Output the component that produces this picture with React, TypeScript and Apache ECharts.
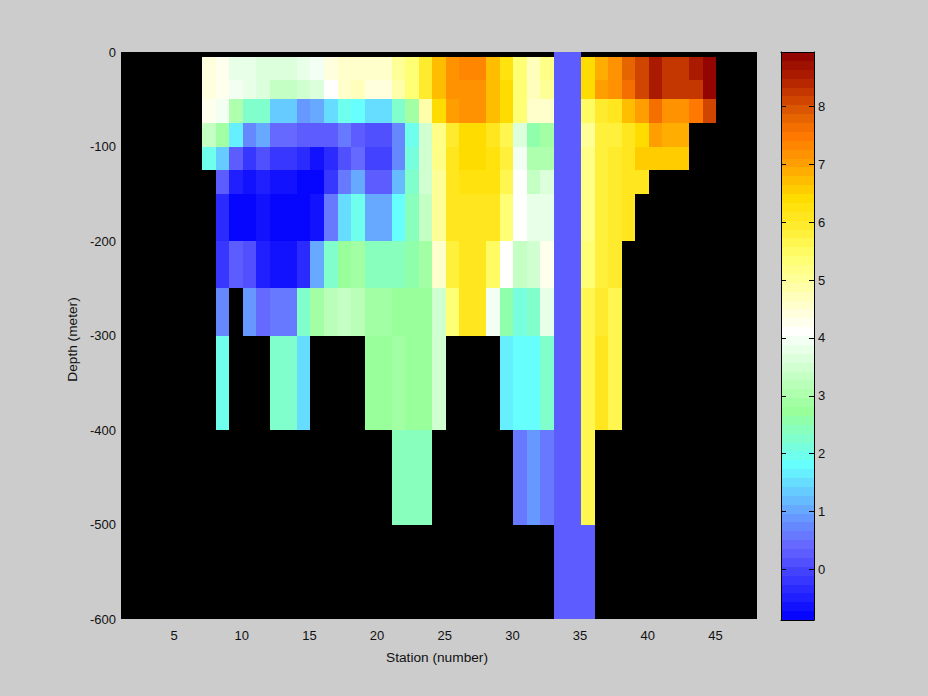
import React, { useEffect, useRef } from "react";
import * as echarts from "echarts";

const _ = null;
const firstStation = 7;
const depthEdges = [0, -5, -30, -50, -75, -100, -125, -150, -200, -250, -300, -400, -500, -600];

const row0to5 = [_,_,_,_,_,_,_,_,_,_,_,_,_,_,_,_,_,_,_,_,_,_,_,_,_,_,.35,.35,_,_,_,_,_,_,_,_,_,_];
const row5to30 = [4.4,4.2,3.75,3.75,3.6,3.6,3.6,3.85,4.0,4.4, 4.6,4.6,4.55,4.55,5.0,5.4,6.0,6.7,7.1,7.3, 7.3,6.7,6.2,5.4,4.7,5.2, .35,.35, 6.45,6.9,7.1,7.75,8.15,8.5,8.3,8.3,8.5,8.9];
const row30to50 = [4.4,4.2,4.0,3.85,3.6,3.3,3.3,3.5,3.7,4.15, 4.5,4.7,4.35,4.35,4.85,5.4,6.0,6.7,7.1,7.1, 7.1,6.7,6.4,5.4,4.7,5.0, .35,.35, 6.4,6.95,7.1,7.6,8.15,8.5,8.3,8.3,8.3,8.9];
const row50to75 = [4.3,3.9,3.0,2.2,2.2,1.4,1.4,.95,1.05,1.45, 2.0,1.8,1.5,1.5,2.2,2.85,4.85,6.4,6.95,7.15, 7.15,6.7,6.4,5.4,4.5,4.5, .35,.35, 5.5,6.0,6.15,6.75,7.05,7.7,7.2,7.2,7.5,8.15];
const row75to100 = [3.3,2.85,1.6,.8,1.0,.4,.4,.25,.25,.25, .65,.35,.05,.05,.75,1.9,3.55,5.2,5.95,6.35, 6.35,6.1,5.7,3.7,2.55,2.85, .35,.35, 5.1,5.75,5.75,6.15,6.35,6.95,6.8,6.8,_,_];
const row100to125 = [2.0,1.3,.2,-.25,.05,-.2,-.2,-.4,-.6,-.4, .05,.4,-.05,-.05,.75,2.05,3.5,5.25,6.1,6.4, 6.4,6.25,5.8,3.9,3.1,3.1, .35,.35, 5.2,5.75,5.9,6.15,6.5,6.6,6.6,6.6,_,_];
const row125to150 = [_,.3,-.5,-.7,-.55,-.7,-.7,-.8,-.8,-.25, .55,1.05,.25,.25,1.25,2.2,3.45,5.1,6.05,6.2, 6.2,6.2,5.6,4.05,3.4,3.7, .35,.35, 5.15,5.8,5.95,6.15,6.15,_,_,_,_,_];
const row150to200 = [_,-.3,-.8,-.8,-.65,-.8,-.8,-.8,-.6,.65, 1.5,2.0,1.1,1.1,1.8,2.45,3.3,5.1,6.05,6.15, 6.15,6.05,5.3,4.05,3.85,3.85, .35,.35, 5.15,5.85,5.95,6.15,_,_,_,_,_,_];
const row200to250 = [_,-.25,.25,.05,-.55,-.7,-.7,-.4,1.05,2.2, 2.7,2.95,2.35,2.35,2.35,2.65,2.95,4.5,5.8,6.15, 6.15,5.45,4.15,3.3,3.45,4.2, .35,.35, 5.35,5.8,5.95,_,_,_,_,_,_,_];
const row250to300 = [_,.75,_,.95,.45,.6,.6,2.2,2.9,3.2, 3.35,3.25,2.9,2.9,2.8,2.8,2.8,3.5,5.4,6.15, 6.15,4.0,2.65,2.05,2.2,3.85, .35,.35, 5.6,5.9,5.7,_,_,_,_,_,_,_];
const row300to400 = [_,2.0,_,_,_,2.2,2.2,1.45,_,_, _,_,2.75,2.75,2.9,2.75,2.75,3.5,_,_, _,_,1.65,1.8,1.8,2.3, .35,.35, 5.6,6.1,5.7,_,_,_,_,_,_,_];
const row400to500 = [_,_,_,_,_,_,_,_,_,_, _,_,_,_,2.4,2.4,2.4,_,_,_, _,_,_,.6,.85,.65, .35,.35, 5.6,_,_,_,_,_,_,_,_,_];
const row500to600 = [_,_,_,_,_,_,_,_,_,_, _,_,_,_,_,_,_,_,_,_, _,_,_,_,_,_, .35,.35, .35,_,_,_,_,_,_,_,_,_];

const depthRows = [row0to5, row5to30, row30to50, row50to75, row75to100, row100to125, row125to150, row150to200, row200to250, row250to300, row300to400, row400to500, row500to600];

const xTicks = [5, 10, 15, 20, 25, 30, 35, 40, 45];
const colorTicks = [0, 1, 2, 3, 4, 5, 6, 7, 8];
const colorMin = -0.875;
const colorMax = 8.94;
const levels = 64;

const colorStops: [number, number, number, number][] = [
  [-0.875, 0, 0, 255], [0.4, 102, 102, 255], [0.9, 102, 153, 255], [1.4, 102, 210, 255],
  [1.8, 102, 255, 255], [2.4, 135, 255, 190], [2.75, 153, 255, 153], [3.4, 200, 255, 200],
  [4.1, 255, 255, 255], [4.7, 255, 255, 190], [5.4, 255, 255, 110], [5.8, 255, 240, 60],
  [6.4, 255, 221, 0], [7.0, 255, 160, 0], [7.5, 255, 120, 0], [7.8, 230, 100, 0],
  [8.2, 200, 60, 0], [8.5, 175, 30, 0], [8.94, 140, 0, 0],
];

function levelColor(i: number): string {
  const v = colorMin + ((i + 0.5) / levels) * (colorMax - colorMin);
  let k = 0;
  while (k < colorStops.length - 2 && v > colorStops[k + 1][0]) k++;
  const a = colorStops[k], b = colorStops[k + 1];
  const t = Math.max(0, Math.min(1, (v - a[0]) / (b[0] - a[0])));
  const c = [1, 2, 3].map((n) => Math.round(a[n] + (b[n] - a[n]) * t));
  return `rgb(${c[0]},${c[1]},${c[2]})`;
}

function valueColor(v: number): string {
  const i = Math.floor(((v - colorMin) / (colorMax - colorMin)) * levels);
  return levelColor(Math.max(0, Math.min(levels - 1, i)));
}

const cellData: number[][] = [];
depthRows.forEach((row, r) => {
  row.forEach((v, c) => {
    if (v !== null) cellData.push([firstStation + c, firstStation + c + 1, depthEdges[r], depthEdges[r + 1], v]);
  });
});

const barData: number[][] = [];
for (let i = 0; i < levels; i++) {
  const step = (colorMax - colorMin) / levels;
  barData.push([0, 1, colorMin + (i + 1) * step, colorMin + i * step, i]);
}

function rectItem(colorOf: (n: number) => string) {
  return (_p: any, api: any) => {
    const p0 = api.coord([api.value(0), api.value(2)]);
    const p1 = api.coord([api.value(1), api.value(3)]);
    const x = Math.round(p0[0]);
    const y = Math.round(p0[1]);
    return {
      type: "rect",
      shape: { x, y, width: Math.round(p1[0]) - x, height: Math.round(p1[1]) - y },
      style: { fill: colorOf(api.value(4)) },
      silent: true,
    };
  };
}

const fontFamily = "'Liberation Sans', Arial, sans-serif";
const textColor = "#111";
const labelStyle = { color: textColor, fontSize: 13, fontFamily };
const nameStyle = { color: textColor, fontSize: 13.7, fontFamily };

export default function App() {
  const ref = useRef<HTMLDivElement>(null);
  useEffect(() => {
    document.body.style.margin = "0";
    const chart = echarts.init(ref.current!, undefined, { renderer: "svg" });
    chart.setOption({
      animation: false,
      backgroundColor: "#cccccc",
      grid: [
        { left: 121, top: 52, width: 636, height: 567, show: true, backgroundColor: "#000", borderWidth: 0 },
        { left: 781, top: 52, width: 33, height: 568, show: false },
      ],
      xAxis: [
        {
          type: "value", gridIndex: 0, min: 1, max: 48, name: "Station (number)", nameLocation: "middle", nameGap: 31,
          nameTextStyle: { ...nameStyle, padding: [0, 4, 0, 0] }, splitLine: { show: false }, axisLine: { show: false },
          axisTick: { show: false, customValues: xTicks },
          axisLabel: { ...labelStyle, margin: 10, padding: [0, 2, 0, 0], customValues: xTicks },
        },
        {
          type: "value", gridIndex: 1, min: 0, max: 1, position: "bottom", z: 5, splitLine: { show: false },
          axisLine: { show: true, onZero: false, lineStyle: { color: "#000", width: 1 } },
          axisTick: { show: false }, axisLabel: { show: false },
        },
        {
          type: "value", gridIndex: 1, min: 0, max: 1, position: "top", z: 5, splitLine: { show: false },
          axisLine: { show: true, onZero: false, lineStyle: { color: "#000", width: 1 } },
          axisTick: { show: false }, axisLabel: { show: false },
        },
      ],
      yAxis: [
        {
          type: "value", gridIndex: 0, min: -600, max: 0, interval: 100, name: "Depth (meter)", nameLocation: "middle",
          nameGap: 42, nameRotate: 90, nameTextStyle: { ...nameStyle, padding: [0, 8, 0, 0] }, splitLine: { show: false }, axisLine: { show: false },
          axisTick: { show: false }, axisLabel: { ...labelStyle, margin: 5, padding: [4, 0, 0, 0] },
        },
        {
          type: "value", gridIndex: 1, min: colorMin, max: colorMax, position: "right", z: 5, splitLine: { show: false },
          axisLine: { show: true, onZero: false, lineStyle: { color: "#000", width: 1 } },
          axisTick: { show: true, inside: true, length: 5, customValues: colorTicks, lineStyle: { color: "#000" } },
          axisLabel: { ...labelStyle, margin: 4, padding: [4, 0, 0, 0], customValues: colorTicks },
        },
        {
          type: "value", gridIndex: 1, min: colorMin, max: colorMax, position: "left", z: 5, splitLine: { show: false },
          axisLine: { show: true, onZero: false, lineStyle: { color: "#000", width: 1 } },
          axisTick: { show: true, inside: true, length: 5, customValues: colorTicks, lineStyle: { color: "#000" } },
          axisLabel: { show: false },
        },
      ],
      series: [
        {
          type: "custom", xAxisIndex: 0, yAxisIndex: 0, data: cellData, encode: { x: [0, 1], y: [2, 3] },
          renderItem: rectItem(valueColor), clip: true,
        },
        {
          type: "custom", xAxisIndex: 1, yAxisIndex: 1, data: barData, encode: { x: [0, 1], y: [2, 3] },
          renderItem: rectItem(levelColor), clip: true,
        },
      ],
    });
    return () => chart.dispose();
  }, []);
  return <div ref={ref} style={{ width: 928, height: 696 }} />;
}
